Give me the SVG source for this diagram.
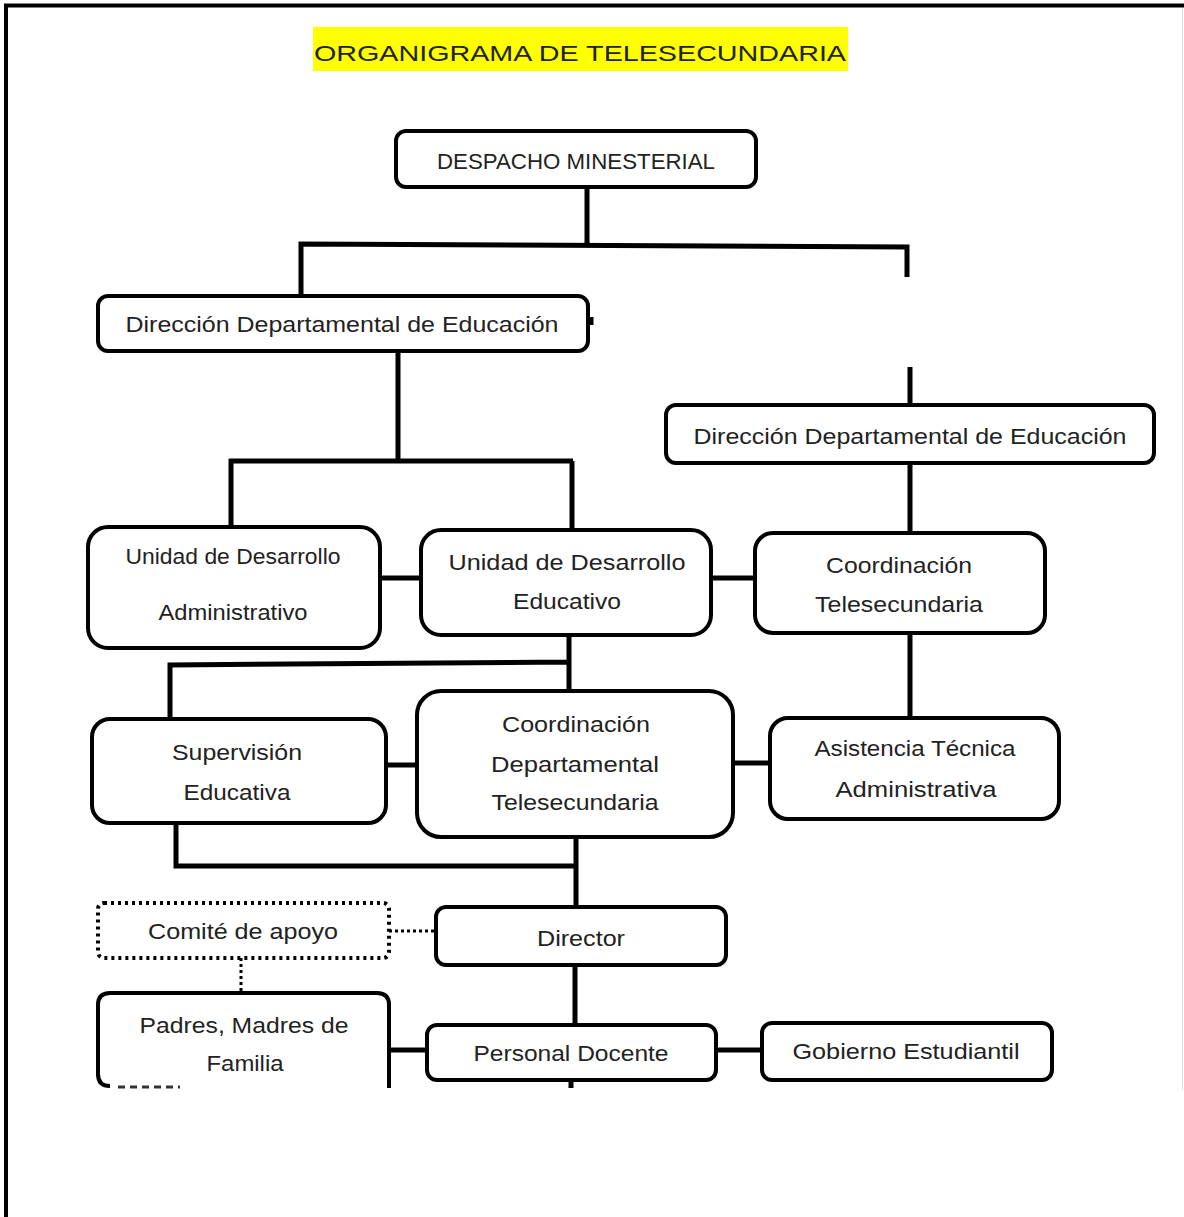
<svg xmlns="http://www.w3.org/2000/svg" width="1184" height="1217" viewBox="0 0 1184 1217">
<style>
.box{fill:#fff;stroke:#000;stroke-width:4}
.dot{fill:#fff;stroke:#000;stroke-width:4;stroke-dasharray:3 4}
.ln{fill:none;stroke:#000;stroke-width:5}
.dl{fill:none;stroke:#000;stroke-width:3;stroke-dasharray:3 3}
text{font-family:"Liberation Sans",Arial,sans-serif;font-size:22px;fill:#222;text-anchor:middle}
</style>
<rect width="1184" height="1217" fill="#fff"/>
<g id="frame">
<line x1="6" y1="4" x2="6" y2="1217" stroke="#000" stroke-width="4"/>
<line x1="4" y1="5.5" x2="1184" y2="5.5" stroke="#000" stroke-width="4"/>
<line x1="1182.5" y1="8" x2="1182.5" y2="1090" stroke="#ddd" stroke-width="1"/>
</g>
<g id="title">
<rect x="313" y="27" width="535" height="44" fill="#ffff00"/>
<text x="580" y="61" font-size="32" textLength="532" lengthAdjust="spacingAndGlyphs">ORGANIGRAMA DE TELESECUNDARIA</text>
</g>
<g id="connectors">
<path class="ln" d="M587 187V245M301 298V244L907 247V277M910 367V405"/>
<path class="ln" d="M591 317V325"/>
<path class="ln" d="M398 351V461M229 461H573M231 459V527M572 461V530"/>
<path class="ln" d="M380 578H421M711 578H755"/>
<path class="ln" d="M910 463V533M910 633V720"/>
<path class="ln" d="M569 635V691M569 662L170 665V719"/>
<path class="ln" d="M386 765H417M733 763H770"/>
<path class="ln" d="M176 823V866H576M576 837V907"/>
<path class="ln" d="M575 965V1025M571 1080V1088"/>
<path class="ln" d="M389 1050H427M716 1050H762"/>
<path class="dl" d="M389 931H436M241 958V993"/>
</g>
<g id="n1"><rect class="box" x="396" y="131" width="360" height="56" rx="10"/><text x="576" y="169" textLength="278" lengthAdjust="spacingAndGlyphs">DESPACHO MINESTERIAL</text></g>
<g id="n2"><rect class="box" x="98" y="296" width="490" height="55" rx="10"/><text x="342" y="332" font-size="23" textLength="433" lengthAdjust="spacingAndGlyphs">Dirección Departamental de Educación</text></g>
<g id="n3"><rect class="box" x="666" y="405" width="488" height="58" rx="10"/><text x="910" y="444" font-size="23" textLength="433" lengthAdjust="spacingAndGlyphs">Dirección Departamental de Educación</text></g>
<g id="n4"><rect class="box" x="88" y="527" width="292" height="121" rx="20"/><text x="233" y="564" font-size="21" textLength="215" lengthAdjust="spacingAndGlyphs">Unidad de Desarrollo</text><text x="233" y="620" font-size="21" textLength="149" lengthAdjust="spacingAndGlyphs">Administrativo</text></g>
<g id="n5"><rect class="box" x="421" y="530" width="290" height="105" rx="20"/><text x="567" y="570" font-size="23" textLength="237" lengthAdjust="spacingAndGlyphs">Unidad de Desarrollo</text><text x="567" y="609" font-size="23" textLength="108" lengthAdjust="spacingAndGlyphs">Educativo</text></g>
<g id="n6"><rect class="box" x="755" y="533" width="290" height="100" rx="18"/><text x="899" y="573" font-size="23" textLength="146" lengthAdjust="spacingAndGlyphs">Coordinación</text><text x="899" y="612" font-size="23" textLength="168" lengthAdjust="spacingAndGlyphs">Telesecundaria</text></g>
<g id="n7"><rect class="box" x="92" y="719" width="294" height="104" rx="18"/><text x="237" y="760" font-size="23" textLength="130" lengthAdjust="spacingAndGlyphs">Supervisión</text><text x="237" y="800" font-size="23" textLength="107" lengthAdjust="spacingAndGlyphs">Educativa</text></g>
<g id="n8"><rect class="box" x="417" y="691" width="316" height="146" rx="24"/><text x="576" y="732" font-size="23" textLength="148" lengthAdjust="spacingAndGlyphs">Coordinación</text><text x="575" y="772" font-size="23" textLength="168" lengthAdjust="spacingAndGlyphs">Departamental</text><text x="575" y="810" font-size="23" textLength="167" lengthAdjust="spacingAndGlyphs">Telesecundaria</text></g>
<g id="n9"><rect class="box" x="770" y="718" width="289" height="101" rx="18"/><text x="915" y="756" font-size="23" textLength="201" lengthAdjust="spacingAndGlyphs">Asistencia Técnica</text><text x="916" y="797" font-size="23" textLength="161" lengthAdjust="spacingAndGlyphs">Administrativa</text></g>
<g id="n10"><rect class="dot" x="98" y="903" width="291" height="55" rx="6"/><text x="243" y="939" font-size="23" textLength="190" lengthAdjust="spacingAndGlyphs">Comité de apoyo</text></g>
<g id="n11"><rect class="box" x="436" y="907" width="290" height="58" rx="10"/><text x="581" y="946" font-size="23" textLength="88" lengthAdjust="spacingAndGlyphs">Director</text></g>
<g id="n12"><path class="box" d="M98 1076V1005Q98 993 110 993H377Q389 993 389 1005V1088"/><path d="M98 1074Q98 1086 110 1086" fill="none" stroke="#000" stroke-width="4"/><path d="M118 1087H180" stroke="#333" stroke-width="3" stroke-dasharray="7 5"/><text x="244" y="1033" font-size="23" textLength="209" lengthAdjust="spacingAndGlyphs">Padres, Madres de</text><text x="245" y="1071" font-size="23" textLength="77" lengthAdjust="spacingAndGlyphs">Familia</text></g>
<g id="n13"><rect class="box" x="427" y="1025" width="289" height="55" rx="10"/><text x="571" y="1061" font-size="23" textLength="195" lengthAdjust="spacingAndGlyphs">Personal Docente</text></g>
<g id="n14"><rect class="box" x="762" y="1023" width="290" height="57" rx="10"/><text x="906" y="1059" font-size="23" textLength="227" lengthAdjust="spacingAndGlyphs">Gobierno Estudiantil</text></g>
</svg>
